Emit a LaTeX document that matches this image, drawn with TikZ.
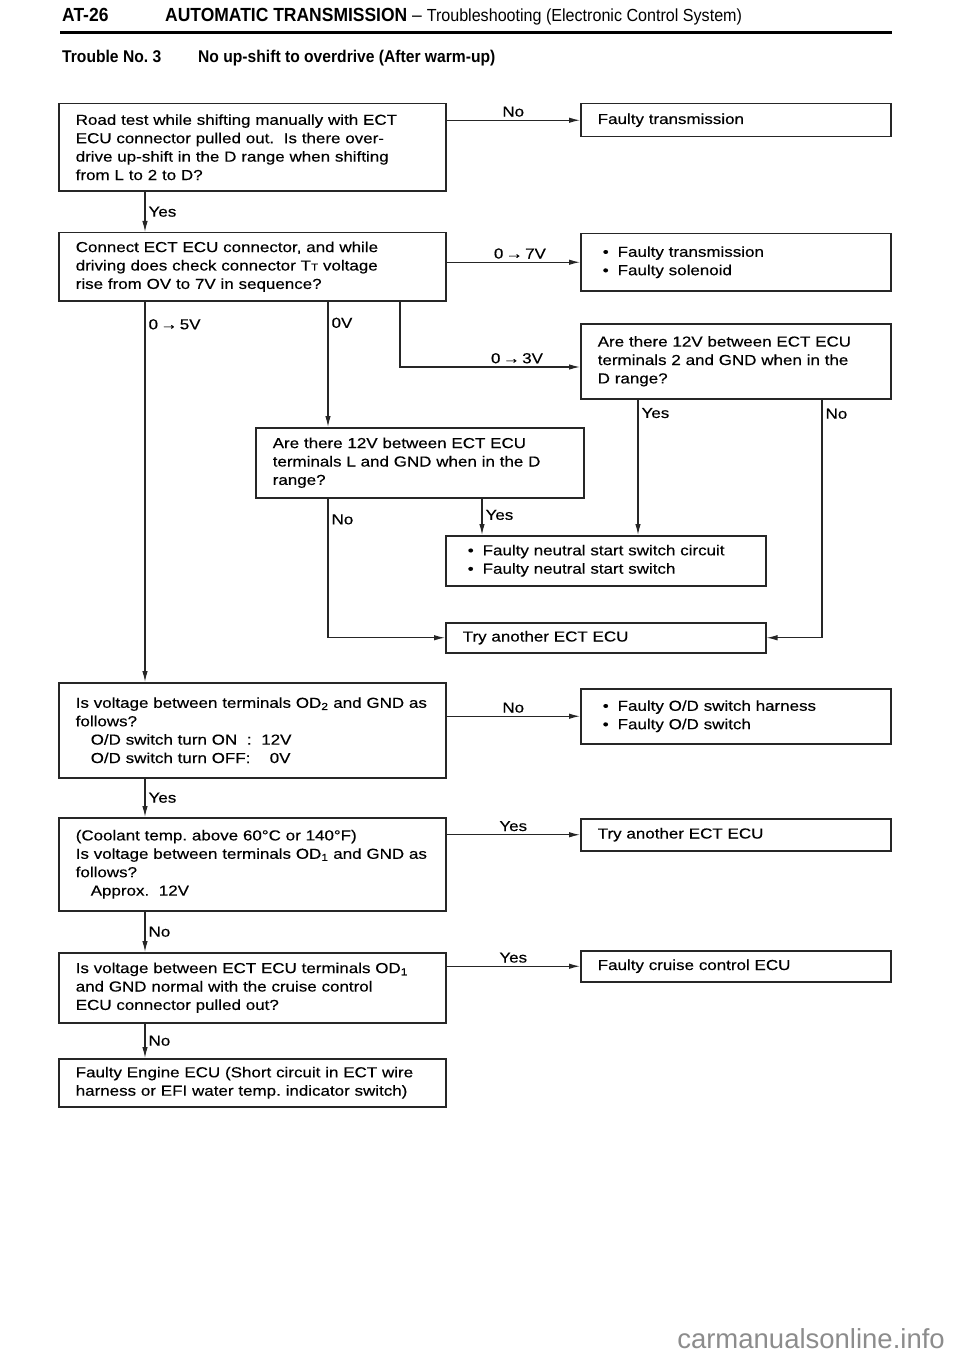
\documentclass[tikz,border=0pt]{standalone}
\usepackage{fontspec}
\setmainfont{Liberation Sans}[FakeStretch=1.17, FakeBold=0.35]
\newfontfamily\headfont{Liberation Sans}[FakeStretch=0.92]
\newfontfamily\plainsans{Liberation Sans}
\usetikzlibrary{arrows.meta}
\frenchspacing

\newcommand{\faultmark}{\hspace*{5bp}\textbullet\hspace{9bp}}

\begin{document}
\begin{tikzpicture}[x=1bp, y=-1bp, font=\fontsize{14.5bp}{18.4bp}\selectfont,
    box/.style={draw=black!85, line width=1.5bp, anchor=north west, align=left, inner xsep=17bp, inner ysep=0bp},
    arr/.style={-{Latex[length=11bp,width=5.5bp]}, line width=1.2bp, draw=black!85},
    lbl/.style={inner sep=3bp}]
        \useasboundingbox (0,0) rectangle (960,1356);

        % Heading
        \node[anchor=base west, inner sep=0, font=\headfont\bfseries\fontsize{19bp}{19bp}\selectfont] (pg) at (62,22) {AT-26};
        \node[anchor=base west, inner sep=0, font=\headfont\fontsize{19bp}{19bp}\selectfont] (ttl) at (165,22) {\textbf{AUTOMATIC TRANSMISSION} – {\fontsize{17.5bp}{17.5bp}\selectfont Troubleshooting (Electronic Control System)}};
        \draw[line width=3bp] (60,33) -- (892,33);
        \node[anchor=base west, inner sep=0, font=\headfont\bfseries\fontsize{17bp}{17bp}\selectfont] (trb) at (62,63) {Trouble No. 3};
        \node[anchor=base west, inner sep=0, font=\headfont\bfseries\fontsize{17bp}{17bp}\selectfont] (sym) at (198,63) {No up-shift to overdrive (After warm-up)};

        % Questions
        \node[box, text width=353bp, minimum height=87bp] (q1) at (58,103) {\mbox{Road test while shifting manually with ECT}\\ ECU connector pulled out.\ \ Is there over-\\ \mbox{drive up-shift in the D range when shifting}\\ from L to 2 to D?};
        \node[box, text width=353bp, minimum height=68bp] (q2) at (58,232) {Connect ECT ECU connector, and while\\ driving does check connector T{\fontsize{10bp}{10bp}\selectfont T} voltage\\ rise from OV to 7V in sequence?};
        \node[box, text width=294bp, minimum height=70bp] (q3) at (255,427) {Are there 12V between ECT ECU\\ \mbox{terminals L and GND when in the D}\\ range?};
        \node[box, text width=353bp, minimum height=95bp] (q4) at (58,682) {\mbox{Is voltage between terminals OD\textsubscript{2} and GND as}\\ follows?\\ \hspace*{15bp}O/D switch turn ON\ \ :\ \ 12V\\ \hspace*{15bp}O/D switch turn OFF:\ \ \ \ 0V};
        \node[box, text width=353bp, minimum height=93bp] (q5) at (58,817) {(Coolant temp. above 60°C or 140°F)\\ \mbox{Is voltage between terminals OD\textsubscript{1} and GND as}\\ follows?\\ \hspace*{15bp}Approx.\ \ 12V};
        \node[box, text width=353bp, minimum height=70bp] (q6) at (58,952) {\mbox{Is voltage between ECT ECU terminals OD\textsubscript{1}}\\ and GND normal with the cruise control\\ ECU connector pulled out?};
        \node[box, text width=353bp, minimum height=48bp] (q7) at (58,1058) {\mbox{Faulty Engine ECU (Short circuit in ECT wire}\\ \mbox{harness or EFI water temp. indicator switch)}};

        % Results
        \node[box, text width=276bp, minimum height=33bp] (r1) at (580,103) {Faulty transmission};
        \node[box, text width=276bp, minimum height=57bp] (r2) at (580,233) {\faultmark Faulty transmission\\ \faultmark Faulty solenoid};
        \node[box, text width=276bp, minimum height=75bp] (r3) at (580,323) {Are there 12V between ECT ECU\\ \mbox{terminals 2 and GND when in the}\\ D range?};
        \node[box, text width=286bp, minimum height=50bp] (n1) at (445,535) {\faultmark \mbox{Faulty neutral start switch circuit}\\ \faultmark Faulty neutral start switch};
        \node[box, text width=286bp, minimum height=30bp] (t1) at (445,622) {Try another ECT ECU};
        \node[box, text width=276bp, minimum height=55bp] (r4) at (580,688) {\faultmark Faulty O/D switch harness\\ \faultmark Faulty O/D switch};
        \node[box, text width=276bp, minimum height=32bp] (r5) at (580,818) {Try another ECT ECU};
        \node[box, text width=276bp, minimum height=31bp] (r6) at (580,950) {Faulty cruise control ECU};

        % Line columns
        \coordinate (x1) at (145,0);
        \coordinate (x2) at (328,0);
        \coordinate (x3) at (400,367);
        \coordinate (x4) at (638,0);
        \coordinate (x5) at (822,0);
        \coordinate (x6) at (482,0);

        % Connections
        \draw[arr] (q1.east |- r1.west) -- node[lbl, above]{No} (r1.west);
        \draw[arr] (q1.south -| x1) -- node[lbl, right]{Yes} (q2.north -| x1);
        \draw[arr] (q2.east |- r2.west) -- node[lbl, above, pos=0.55]{0\,→\,7V} (r2.west);
        \draw[arr] (q2.south -| x1) -- node[lbl, right, pos=0.06]{0\,→\,5V} (q4.north -| x1);
        \draw[arr] (q2.south -| x2) -- node[lbl, right, pos=0.17]{0V} (q3.north -| x2);
        \draw[arr] (q2.south -| x3) -- (x3) -- node[lbl, above, pos=0.65]{0\,→\,3V} (x3 -| r3.west);
        \draw[arr] (r3.south -| x4) -- node[lbl, right, pos=0.1]{Yes} (n1.north -| x4);
        \draw[arr] (r3.south -| x5) -- node[lbl, right, pos=0.06]{No} (t1.east -| x5) -- (t1.east);
        \draw[arr] (q3.south -| x2) -- node[lbl, right, pos=0.15]{No} (t1.west -| x2) -- (t1.west);
        \draw[arr] (q3.south -| x6) -- node[lbl, right, pos=0.45]{Yes} (n1.north -| x6);
        \draw[arr] (q4.east |- r4.west) -- node[lbl, above]{No} (r4.west);
        \draw[arr] (q4.south -| x1) -- node[lbl, right]{Yes} (q5.north -| x1);
        \draw[arr] (q5.east |- r5.west) -- node[lbl, above]{Yes} (r5.west);
        \draw[arr] (q5.south -| x1) -- node[lbl, right]{No} (q6.north -| x1);
        \draw[arr] (q6.east |- r6.west) -- node[lbl, above]{Yes} (r6.west);
        \draw[arr] (q6.south -| x1) -- node[lbl, right]{No} (q7.north -| x1);

        % Site mark
        \node[anchor=base east, inner sep=0, text=black!45, font=\plainsans\fontsize{27.5bp}{27.5bp}\selectfont] (wm) at (945,1348) {carmanualsonline.info};
\end{tikzpicture}
\end{document}
